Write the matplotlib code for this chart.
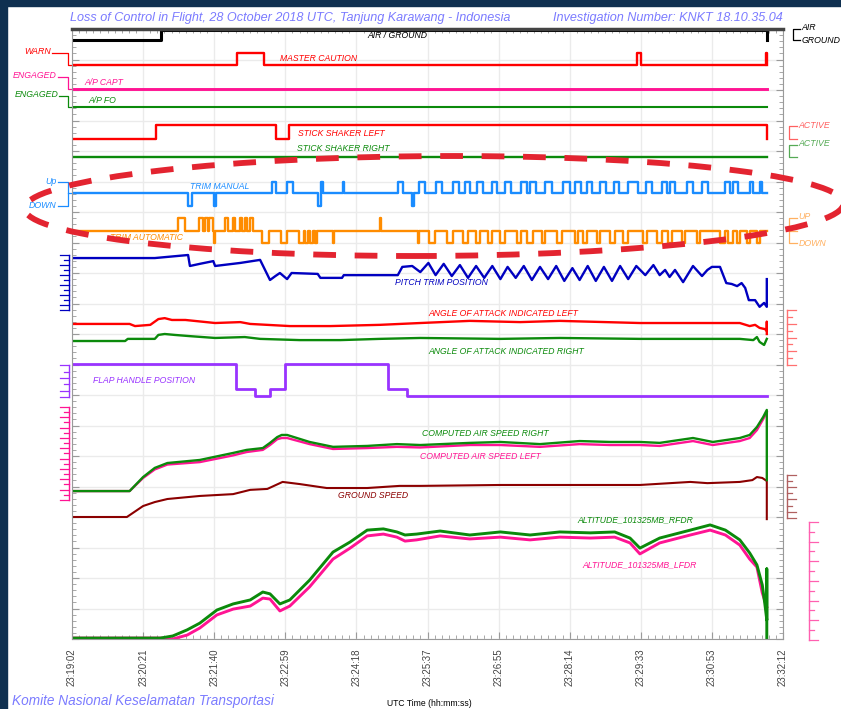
import numpy as np
import matplotlib
matplotlib.use('Agg')
import matplotlib.pyplot as plt
from matplotlib.patches import Ellipse, Rectangle
from matplotlib.transforms import Affine2D

plt.rcParams['font.family'] = ['Liberation Sans', 'DejaVu Sans']

# time axis: seconds after 23:19:02
tick_labels = ['23:19:02', '23:20:21', '23:21:40', '23:22:59', '23:24:18', '23:25:37',
               '23:26:55', '23:28:14', '23:29:33', '23:30:53', '23:32:12']
tick_step = 79
t_end = 772

# discrete parameters (chart units, 0..20 from bottom)
air_t = [0, 99, 772]
air_v = [19.64, 19.96, 19.64]

mc_low, mc_high = 18.82, 19.21
mc_spans = [(183, 213), (628, 632), (771, 772)]

ap_capt = 18.03
ap_fo = 17.44

ssl_t = [0, 93, 227, 241, 772]
ssl_v = [16.39, 16.85, 16.39, 16.85, 16.39]
ss_right = 15.80

# trim manual: baseline, up, down
tm_base, tm_up, tm_down = 14.62, 14.98, 14.20
tm_up_spans = [(222, 227), (239, 246), (277, 279), (301, 302), (362, 368), (386, 392),
               (404, 411), (423, 430), (437, 442), (450, 457), (467, 472), (481, 488),
               (499, 506), (509, 516), (526, 533), (546, 553), (559, 566), (572, 578),
               (587, 593), (602, 608), (618, 629), (638, 644), (656, 661), (664, 670),
               (683, 690), (700, 707), (726, 731), (734, 740), (753, 757), (764, 767)]
tm_down_spans = [(129, 133), (158, 160), (273, 277), (378, 380)]

# trim automatic
ta_base, ta_up, ta_down = 13.38, 13.80, 12.98
ta_up_spans = [(118, 126), (141, 146), (148, 151), (152, 157), (170, 173), (179, 181),
               (187, 189), (192, 194), (198, 201), (342, 343)]
ta_down_spans = [(158, 159), (211, 219), (232, 239), (252, 258), (259, 262), (264, 268),
                 (270, 272), (290, 291), (384, 386), (397, 403), (417, 423), (434, 440),
                 (449, 453), (462, 467), (476, 481), (494, 499), (506, 512), (522, 526),
                 (539, 544), (559, 562), (568, 572), (583, 587), (598, 603), (612, 618),
                 (634, 639), (650, 656), (662, 667), (678, 681), (694, 698), (720, 726),
                 (729, 734), (739, 742), (750, 753), (761, 764)]

# pitch trim position
pt_t = [0, 92, 129, 131, 142, 157, 159, 187, 209, 220, 226, 231, 239, 244, 273, 276, 300,
        302, 362, 367, 378, 387, 396, 404, 413, 422, 431, 440, 449, 458, 467, 476, 484,
        493, 502, 511, 520, 529, 538, 547, 556, 564, 573, 582, 591, 600, 609, 618, 627,
        637, 646, 653, 659, 664, 670, 679, 690, 700, 706, 711, 720, 727, 733, 739, 744,
        748, 752, 759, 764, 769, 772, 772]
pt_v = [12.49, 12.49, 12.59, 12.23, 12.30, 12.39, 12.23, 12.33, 12.43, 11.77, 11.90, 12.00,
        11.80, 12.00, 11.97, 11.84, 11.84, 11.93, 11.93, 12.20, 12.23, 12.03, 12.33, 11.93,
        12.30, 11.90, 12.26, 11.84, 12.23, 11.84, 12.23, 11.80, 12.20, 11.84, 12.23, 11.77,
        12.20, 11.80, 12.23, 11.74, 12.16, 11.77, 12.23, 11.74, 12.20, 11.74, 12.23, 11.80,
        12.23, 11.93, 12.26, 11.93, 12.10, 11.87, 12.10, 11.70, 12.23, 11.90, 12.10, 12.20,
        12.20, 11.67, 11.64, 11.57, 11.67, 11.51, 11.11, 11.11, 10.89, 11.02, 10.89, 11.80]

# angle of attack
aoal_t = [0, 64, 70, 87, 96, 103, 111, 126, 159, 187, 198, 242, 287, 342, 387, 442, 498,
          542, 631, 698, 742, 753, 759, 764, 770, 772, 772, 772]
aoal_v = [10.33, 10.33, 10.26, 10.30, 10.49, 10.52, 10.46, 10.46, 10.36, 10.39, 10.33,
          10.26, 10.26, 10.30, 10.36, 10.43, 10.39, 10.43, 10.36, 10.36, 10.36, 10.26,
          10.30, 10.20, 10.16, 10.10, 10.40, 10.00]
aoar_t = [0, 59, 62, 92, 96, 103, 114, 131, 159, 192, 209, 253, 298, 342, 387, 476, 542,
          631, 698, 742, 757, 761, 764, 769, 772]
aoar_v = [9.77, 9.77, 9.84, 9.84, 9.97, 10.00, 9.97, 9.93, 9.87, 9.90, 9.84, 9.80, 9.80,
          9.84, 9.87, 9.84, 9.87, 9.84, 9.84, 9.84, 9.80, 9.90, 9.74, 9.64, 9.84]

# flap handle
flap_t = [0, 182, 203, 220, 237, 351, 372, 772]
flap_v = [9.02, 8.20, 7.97, 8.20, 9.02, 8.20, 7.97, 7.97]

# computed air speed
cas_t = [0, 64, 79, 92, 106, 142, 179, 194, 212, 220, 228, 233, 239, 264, 290, 328, 361,
         387, 442, 476, 520, 564, 598, 631, 653, 690, 712, 742, 753, 761, 768, 772]
casr_v = [4.85, 4.85, 5.31, 5.61, 5.77, 5.87, 6.10, 6.20, 6.26, 6.43, 6.62, 6.69, 6.69,
          6.46, 6.30, 6.33, 6.39, 6.36, 6.43, 6.46, 6.39, 6.49, 6.46, 6.46, 6.43, 6.59,
          6.46, 6.59, 6.69, 6.95, 7.28, 7.51]
casl_v = [4.85, 4.85, 5.28, 5.56, 5.72, 5.80, 6.02, 6.13, 6.20, 6.36, 6.55, 6.59, 6.59,
          6.39, 6.23, 6.26, 6.30, 6.28, 6.36, 6.36, 6.30, 6.39, 6.36, 6.36, 6.33, 6.49,
          6.36, 6.49, 6.59, 6.85, 7.21, 7.44]
casr_drop = 5.21

# ground speed
gs_t = [0, 61, 79, 92, 106, 142, 179, 198, 217, 234, 253, 283, 328, 364, 387, 476, 542,
        631, 687, 706, 742, 756, 761, 767, 772, 772]
gs_v = [4.00, 4.00, 4.36, 4.49, 4.59, 4.69, 4.75, 4.89, 4.92, 5.15, 5.08, 4.95, 4.95,
        5.02, 5.02, 5.05, 5.05, 5.05, 5.15, 5.11, 5.15, 5.21, 5.31, 5.28, 5.18, 3.93]

# altitude
altr_t = [0, 98, 112, 128, 142, 161, 179, 198, 212, 220, 231, 242, 264, 290, 309, 328, 346,
          361, 370, 383, 409, 442, 476, 509, 542, 576, 603, 620, 631, 653, 687, 709, 726,
          742, 753, 761, 767, 770, 772, 772, 772]
altr_v = [0.03, 0.03, 0.10, 0.30, 0.52, 0.95, 1.15, 1.28, 1.54, 1.48, 1.15, 1.28, 1.93,
          2.85, 3.18, 3.57, 3.61, 3.51, 3.41, 3.44, 3.54, 3.41, 3.51, 3.41, 3.51, 3.48,
          3.51, 3.31, 2.98, 3.31, 3.57, 3.74, 3.57, 3.25, 2.82, 2.43, 1.77, 1.11, 0.62,
          2.30, 0.0]
altl_t = [0, 100, 112, 128, 142, 161, 179, 198, 212, 220, 231, 242, 264, 290, 309, 328,
          346, 361, 370, 383, 409, 442, 476, 509, 542, 576, 603, 620, 631, 653, 687, 709,
          726, 742, 753, 761, 767, 772]
altl_v = [0.03, 0.03, 0.0, 0.13, 0.36, 0.79, 0.98, 1.08, 1.34, 1.31, 0.92, 1.08, 1.71,
          2.62, 2.98, 3.38, 3.44, 3.34, 3.21, 3.25, 3.38, 3.28, 3.34, 3.25, 3.34, 3.31,
          3.34, 3.15, 2.79, 3.15, 3.41, 3.57, 3.41, 3.08, 2.62, 2.36, 1.51, 1.05]

RED = '#ff0000'
GREEN = '#0b8a0b'
PINK = '#ff1493'
BLUE = '#1a8cff'
ORANGE = '#ff8c00'
NAVY = '#0000c0'
PURPLE = '#9933ff'
BROWN = '#8b0000'
TITLE = '#7b7bff'


def pulse_train(base, spans):
    # spans: (start, end, level)
    xs, ys = [0], [base]
    for a, b, lev in sorted(spans):
        xs += [a, a, b, b]
        ys += [base, lev, lev, base]
    xs.append(t_end)
    ys.append(base)
    return xs, ys


fig = plt.figure(figsize=(8.41, 7.09), dpi=100)
fig.patch.set_facecolor('white')
ax = fig.add_axes([72 / 841, 70 / 709, 711 / 841, 610 / 709])
ax.set_xlim(0, 790)
ax.set_ylim(0, 20)

ax.set_xticks(np.arange(0, 791, tick_step))
ax.set_xticklabels(tick_labels, rotation=90, fontsize=7, color='#444444')
ax.set_xticks(np.arange(0, 790, tick_step / 10), minor=True)
ax.set_yticks(np.arange(0, 21, 1))
ax.set_yticklabels([])
ax.set_yticks(np.arange(0, 20, 0.2), minor=True)
ax.tick_params(which='both', direction='in', top=True, right=True, color='#9a9a9a')
ax.tick_params(which='major', length=5, width=0.8, pad=7)
ax.tick_params(which='minor', length=3, width=0.6)
ax.tick_params(axis='x', which='major', top=False)
ax.grid(True, which='major', color='#ebebeb', lw=1)
ax.set_axisbelow(True)
for s in ['left', 'bottom', 'right']:
    ax.spines[s].set_color('#9a9a9a')
ax.spines['top'].set_color('#444444')
ax.spines['top'].set_linewidth(2.5)

lw = 1.7
ax.plot(air_t, air_v, drawstyle='steps-post', color='black', lw=2.2)
x, y = pulse_train(mc_low, [(a, b, mc_high) for a, b in mc_spans])
ax.plot(x, y, color=RED, lw=lw)
ax.plot([0, t_end], [ap_capt, ap_capt], color=PINK, lw=lw + 0.4)
ax.plot([0, t_end], [ap_fo, ap_fo], color=GREEN, lw=lw - 0.2)
ax.plot(ssl_t, ssl_v, drawstyle='steps-post', color=RED, lw=lw)
ax.plot([0, t_end], [ss_right, ss_right], color=GREEN, lw=lw)
x, y = pulse_train(tm_base, [(a, b, tm_up) for a, b in tm_up_spans] +
                   [(a, b, tm_down) for a, b in tm_down_spans])
ax.plot(x, y, color=BLUE, lw=lw)
x, y = pulse_train(ta_base, [(a, b, ta_up) for a, b in ta_up_spans] +
                   [(a, b, ta_down) for a, b in ta_down_spans])
ax.plot(x, y, color=ORANGE, lw=lw)
ax.plot(pt_t, pt_v, color=NAVY, lw=lw)
ax.plot(aoal_t, aoal_v, color=RED, lw=lw)
ax.plot(aoar_t, aoar_v, color=GREEN, lw=lw)
ax.plot(flap_t, flap_v, drawstyle='steps-post', color=PURPLE, lw=lw + 0.3)
ax.plot(gs_t, gs_v, color=BROWN, lw=lw - 0.2)
ax.plot(cas_t, casl_v, color=PINK, lw=lw)
ax.plot(cas_t + [t_end], casr_v + [casr_drop], color=GREEN, lw=lw)
ax.plot(altl_t, altl_v, color=PINK, lw=lw + 0.4)
ax.plot(altr_t, altr_v, color=GREEN, lw=lw + 0.4)

# trace names
names = [
    ('AIR / GROUND', 328, 19.80, 'black', 'left'),
    ('MASTER CAUTION', 231, 19.02, RED, 'left'),
    ('A/P CAPT', 14, 18.26, PINK, 'left'),
    ('A/P FO', 18, 17.64, GREEN, 'left'),
    ('STICK SHAKER LEFT', 251, 16.59, RED, 'left'),
    ('STICK SHAKER RIGHT', 250, 16.07, GREEN, 'left'),
    ('TRIM MANUAL', 131, 14.82, BLUE, 'left'),
    ('TRIM AUTOMATIC', 42, 13.15, ORANGE, 'left'),
    ('PITCH TRIM POSITION', 359, 11.70, NAVY, 'left'),
    ('ANGLE OF ATTACK INDICATED LEFT', 396, 10.66, RED, 'left'),
    ('ANGLE OF ATTACK INDICATED RIGHT', 396, 9.44, GREEN, 'left'),
    ('FLAP HANDLE POSITION', 23, 8.46, PURPLE, 'left'),
    ('COMPUTED AIR SPEED RIGHT', 389, 6.75, GREEN, 'left'),
    ('COMPUTED AIR SPEED LEFT', 387, 5.97, PINK, 'left'),
    ('GROUND SPEED', 296, 4.69, BROWN, 'left'),
    ('ALTITUDE_101325MB_RFDR', 562, 3.90, GREEN, 'left'),
    ('ALTITUDE_101325MB_LFDR', 567, 2.43, PINK, 'left'),
]
for txt, tx, ty, c, ha in names:
    ax.text(tx, ty, txt, color=c, fontsize=6.2, style='italic', ha=ha, va='center')


def bracket(xs, ys, color):
    ax.plot(xs, ys, color=color, lw=0.9, clip_on=False)


def note(tx, ty, txt, color, ha):
    ax.text(tx, ty, txt, color=color, fontsize=6.3, style='italic', ha=ha, va='center',
            clip_on=False)


# left discrete labels
bracket([-22, -4, -4, 0], [mc_high, mc_high, mc_low, mc_low], RED)
note(-23, mc_high + 0.06, 'WARN', RED, 'right')
bracket([-16, -4, -4, 0], [18.43, 18.43, ap_capt, ap_capt], PINK)
note(-17, 18.47, 'ENGAGED', PINK, 'right')
bracket([-14, -4, -4, 0], [17.80, 17.80, ap_fo, ap_fo], GREEN)
note(-15, 17.84, 'ENGAGED', GREEN, 'right')
bracket([-16, -4, -4, -16], [tm_up, tm_up, tm_down, tm_down], BLUE)
bracket([-4, 0], [tm_base, tm_base], BLUE)
note(-17, tm_up + 0.03, 'Up', BLUE, 'right')
note(-17, tm_down, 'DOWN', BLUE, 'right')

# right discrete labels
bracket([809, 801, 801, 809], [20.0, 20.0, 19.64, 19.64], 'black')
note(811, 20.05, 'AIR', 'black', 'left')
note(811, 19.62, 'GROUND', 'black', 'left')
bracket([806, 797, 797, 806], [16.82, 16.82, ssl_v[0], ssl_v[0]], '#ff6060')
note(807, 16.85, 'ACTIVE', '#ff6060', 'left')
bracket([806, 797, 797, 806], [16.21, 16.21, ss_right, ss_right], '#55aa55')
note(807, 16.24, 'ACTIVE', '#55aa55', 'left')
bracket([806, 797, 797, 806], [13.80, 13.80, ta_down, ta_down], '#ffb060')
bracket([797, 806], [ta_base, ta_base], '#ffb060')
note(807, 13.84, 'UP', '#ffb060', 'left')
note(807, ta_down, 'DOWN', '#ffb060', 'left')


def ruler(x0, sign, top, bot, n, color):
    ax.plot([x0, x0], [bot, top], color=color, lw=1, clip_on=False)
    for i, yy in enumerate(np.linspace(top, bot, n)):
        ln = 10 if (i % 2 == 0 or i == n - 1) else 5.5
        ax.plot([x0, x0 + sign * ln], [yy, yy], color=color, lw=0.9, clip_on=False)


ruler(-3.3, -1, 12.59, 10.79, 12, NAVY)
ruler(-3.3, -1, 8.98, 7.93, 6, PURPLE)
ruler(-3.3, -1, 7.61, 4.56, 19, PINK)
ruler(794.5, 1, 10.79, 8.98, 9, '#ff7070')
ruler(794.5, 1, 5.38, 3.97, 8, '#b06060')
ruler(819, 1, 3.84, -0.03, 13, '#ff60b0')

# header and footer
fig.text(70 / 841, 1 - 18 / 709, 'Loss of Control in Flight, 28 October 2018 UTC, '
         'Tanjung Karawang - Indonesia', color=TITLE, fontsize=9.1, style='italic',
         ha='left', va='center')
fig.text(783 / 841, 1 - 18 / 709, 'Investigation Number: KNKT 18.10.35.04', color=TITLE,
         fontsize=9.1, style='italic', ha='right', va='center')
fig.text(12 / 841, 1 - 701 / 709, 'Komite Nasional Keselamatan Transportasi', color=TITLE,
         fontsize=9.8, style='italic', ha='left', va='center')
fig.text(429 / 841, 1 - 703 / 709, 'UTC Time (hh:mm:ss)', color='black', fontsize=6.2,
         ha='center', va='center')

# dark frame edges
fig.add_artist(Rectangle((0, 0), 7 / 841, 1, transform=fig.transFigure,
                         color='#0f3050', zorder=5))
fig.add_artist(Rectangle((0, 1 - 6 / 709), 1, 6 / 709, transform=fig.transFigure,
                         color='#0f3050', zorder=5))

# red dashed highlight around the trim channels
shape = Affine2D().skew(np.arctan(0.4), 0).translate(434, 709 - 206)
ring = Ellipse((0, 0), 818, 100, fill=False, ec='#e32430', lw=4.2,
               ls=(0, (3.9, 3.2)), transform=shape + Affine2D().scale(1 / 100)
               + fig.dpi_scale_trans, zorder=4)
fig.add_artist(ring)

fig.savefig('out.png', dpi=100)
